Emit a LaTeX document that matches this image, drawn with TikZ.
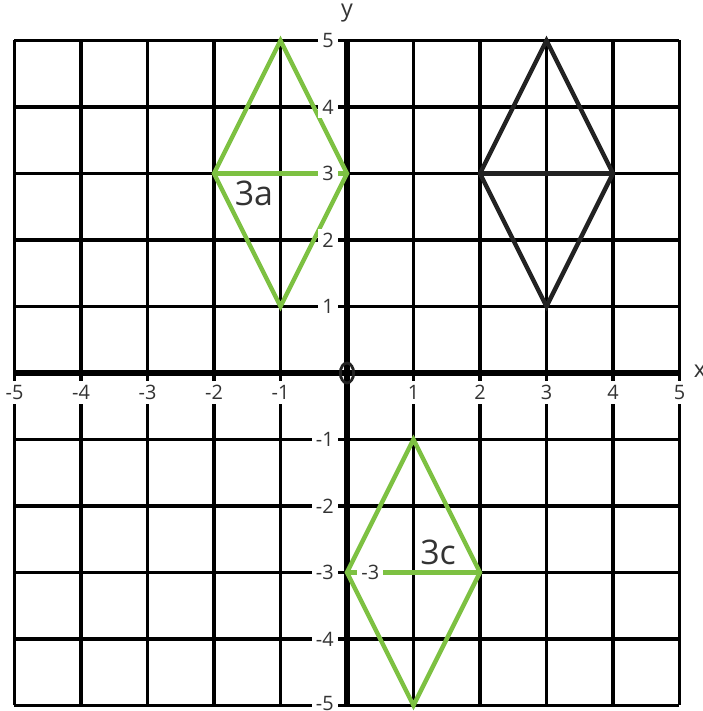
\documentclass[tikz,border=0pt]{standalone}
\usepackage{fontspec}
\setmainfont{Open Sans}
\definecolor{grn}{HTML}{7DC142}
\definecolor{txt}{HTML}{333333}
\definecolor{shp}{HTML}{222222}
\begin{document}
\begin{tikzpicture}[
  gridline/.style={black, line width=1.3pt},
  axisline/.style={black, line width=2.8pt},
  greenshape/.style={grn, line width=1.9pt, line join=miter},
  blackshape/.style={shp, line width=1.9pt, line join=miter},
  ticklab/.style={fill=white, text=txt, font=\fontsize{8.5}{9}\selectfont, inner sep=1.8pt},
  biglab/.style={text=txt, font=\fontsize{14.5}{16}\selectfont, inner sep=0pt},
  axlab/.style={text=txt, font=\fontsize{10}{11}\selectfont, inner sep=0pt}
]
\useasboundingbox (-5.218,-5.083) rectangle (5.353,5.609);
% grid
\foreach \i in {-5,...,5} {
  \draw[gridline] (\i,-5) -- (\i,5);
  \draw[gridline] (-5,\i) -- (5,\i);
}
% axes
\draw[axisline] (-5,0) -- (5,0);
\draw[axisline] (0,-5) -- (0,5);
% shapes
\coordinate (A1) at (-1,5); \coordinate (A2) at (0,3); \coordinate (A3) at (-1,1); \coordinate (A4) at (-2,3);
\draw[greenshape] (A1) -- (A2) -- (A3) -- (A4) -- cycle;
\draw[greenshape] (A4) -- (A2);
\coordinate (B1) at (3,5); \coordinate (B2) at (4,3); \coordinate (B3) at (3,1); \coordinate (B4) at (2,3);
\draw[blackshape] (B1) -- (B2) -- (B3) -- (B4) -- cycle;
\draw[blackshape] (B4) -- (B2);
\coordinate (C1) at (1,-1); \coordinate (C2) at (2,-3); \coordinate (C3) at (1,-5); \coordinate (C4) at (0,-3);
\draw[greenshape] (C1) -- (C2) -- (C3) -- (C4) -- cycle;
\draw[greenshape] (C4) -- (C2);
% tick labels
\foreach \i in {-5,-4,-3,-2,-1,1,2,3,4,5} {
  \node[ticklab] (xl\i) at (\i,-0.29) {\i};
}
\foreach \i in {-4,-3,-2,-1,1,2,3,4,5} {
  \node[ticklab, anchor=east] (yl\i) at (-0.13,\i) {\i};
}
\node[ticklab, anchor=east, inner ysep=0.5pt] (yl-5) at (-0.13,-4.975) {-5};
\node[ticklab] (extra) at (0.35,-3) {-3};
% origin
\draw[shp, line width=1.2pt] (0,0) ellipse [x radius=0.1, y radius=0.15];
% axis letters
\node[axlab] (xlab) at (5.31,0.02) {x};
\node[axlab] (ylab) at (0,5.41) {y};
% shape labels
\node[biglab] (la) at (-1.4,2.7) {3a};
\node[biglab] (lc) at (1.37,-2.7) {3c};
\end{tikzpicture}
\end{document}
